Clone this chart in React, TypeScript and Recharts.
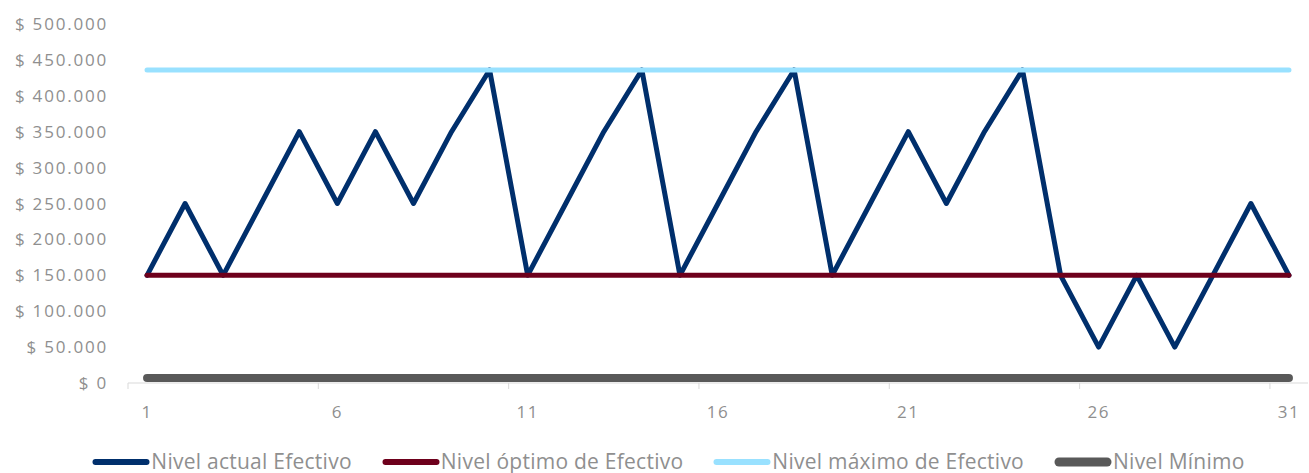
import React from 'react';
import { LineChart, Line, XAxis, YAxis, Legend } from 'recharts';

const days = [1, 2, 3, 4, 5, 6, 7, 8, 9, 10, 11, 12, 13, 14, 15, 16, 17, 18, 19, 20, 21, 22, 23, 24, 25, 26, 27, 28, 29, 30, 31];
const nivelActual = [
  150000, 250000, 150000, 250000, 350000, 250000, 350000, 250000, 350000, 436000,
  150000, 250000, 350000, 436000, 150000, 250000, 350000, 436000, 150000, 250000,
  350000, 250000, 350000, 436000, 150000, 50000, 150000, 50000, 150000, 250000, 150000,
];
const nivelOptimo = 150000;
const nivelMaximo = 436000;
const nivelMinimo = 7000;

const yTicks = [0, 50000, 100000, 150000, 200000, 250000, 300000, 350000, 400000, 450000, 500000];
const xLabelTicks = [1, 6, 11, 16, 21, 26, 31];
const xMarkTicks = [0.5, 5.5, 10.5, 15.5, 20.5, 25.5, 30.5];

const seriesNames = ['Nivel actual Efectivo', 'Nivel óptimo de Efectivo', 'Nivel máximo de Efectivo', 'Nivel Mínimo'];
const seriesColors = ['#002f6c', '#6e001c', '#99e1ff', '#595959'];
const seriesWidths = [5, 5, 5, 8];

const data = days.map((d, i) => ({
  day: d,
  actual: nivelActual[i],
  optimo: nivelOptimo,
  maximo: nivelMaximo,
  minimo: nivelMinimo,
}));

const fmt = (v: number) => '$ ' + String(v).replace(/\B(?=(\d{3})+(?!\d))/g, '.');

const FONT = '"Open Sans", sans-serif';
const GRAY_TEXT = '#8f8f8f';

const renderLegend = () => (
  <div
    style={{
      height: 40,
      width: 1309,
      display: 'flex',
      justifyContent: 'center',
      alignItems: 'flex-start',
      paddingTop: 18,
      boxSizing: 'border-box',
      paddingLeft: 28,
      fontFamily: FONT,
      fontSize: 21,
      lineHeight: '21px',
      letterSpacing: 0.25,
      color: GRAY_TEXT,
      whiteSpace: 'nowrap',
    }}
  >
    {seriesNames.map((n, i) => (
      <div key={n} style={{ display: 'flex', alignItems: 'center', marginLeft: i === 0 ? 0 : 30 }}>
        <svg width={58} height={12} style={{ display: 'block' }}>
          <line
            x1={seriesWidths[i] / 2 + 1}
            y1={6}
            x2={58 - seriesWidths[i] / 2 - 1}
            y2={6}
            stroke={seriesColors[i]}
            strokeWidth={seriesWidths[i] + 1}
            strokeLinecap="round"
          />
        </svg>
        <span style={{ marginLeft: 1 }}>{n}</span>
      </div>
    ))}
  </div>
);

export default function App() {
  return (
    <div style={{ width: 1309, height: 473, background: '#fff' }}>
      <style>{`body{margin:0}`}</style>
      <LineChart
        width={1309}
        height={473}
        data={data}
        margin={{ top: 24, right: 1, bottom: 0, left: 0 }}
        style={{ fontFamily: FONT }}
      >
        <XAxis
          xAxisId="aMarks"
          type="number"
          dataKey="day"
          domain={[0.5, 31.5]}
          ticks={xMarkTicks}
          interval={0}
          tick={() => <g />}
          height={1}
          axisLine={{ stroke: '#d9d9d9', strokeWidth: 1 }}
          tickLine={{ stroke: '#d9d9d9', strokeWidth: 1 }}
          tickSize={6}
        />
        <XAxis
          xAxisId="zMain"
          type="number"
          dataKey="day"
          domain={[0.5, 31.5]}
          ticks={xLabelTicks}
          axisLine={false}
          tickLine={false}
          tickSize={0}
          tickMargin={22}
          height={49}
          interval={0}
          tick={{ fill: GRAY_TEXT, fontSize: 17, fontFamily: FONT, letterSpacing: 1.5 }}
        />
        <YAxis
          type="number"
          domain={[0, 500000]}
          ticks={yTicks}
          tickFormatter={fmt}
          axisLine={false}
          tickLine={false}
          tickSize={0}
          tickMargin={20}
          width={128}
          interval={0}
          tick={{ fill: GRAY_TEXT, fontSize: 17, fontFamily: FONT, letterSpacing: 1.8 }}
        />
        <Legend verticalAlign="bottom" content={renderLegend} />
        <Line
          xAxisId="aMarks"
          dataKey="optimo"
          stroke="transparent"
          strokeWidth={0}
          dot={false}
          activeDot={false}
          legendType="none"
          isAnimationActive={false}
        />
        <Line
          xAxisId="zMain"
          dataKey="actual"
          name={seriesNames[0]}
          stroke={seriesColors[0]}
          strokeWidth={seriesWidths[0]}
          strokeLinejoin="round"
          strokeLinecap="round"
          dot={false}
          activeDot={false}
          isAnimationActive={false}
        />
        <Line
          xAxisId="zMain"
          dataKey="optimo"
          name={seriesNames[1]}
          stroke={seriesColors[1]}
          strokeWidth={seriesWidths[1]}
          strokeLinecap="round"
          dot={false}
          activeDot={false}
          isAnimationActive={false}
        />
        <Line
          xAxisId="zMain"
          dataKey="maximo"
          name={seriesNames[2]}
          stroke={seriesColors[2]}
          strokeWidth={seriesWidths[2]}
          strokeLinecap="round"
          dot={false}
          activeDot={false}
          isAnimationActive={false}
        />
        <Line
          xAxisId="zMain"
          dataKey="minimo"
          name={seriesNames[3]}
          stroke={seriesColors[3]}
          strokeWidth={seriesWidths[3]}
          strokeLinecap="round"
          dot={false}
          activeDot={false}
          isAnimationActive={false}
        />
      </LineChart>
    </div>
  );
}
